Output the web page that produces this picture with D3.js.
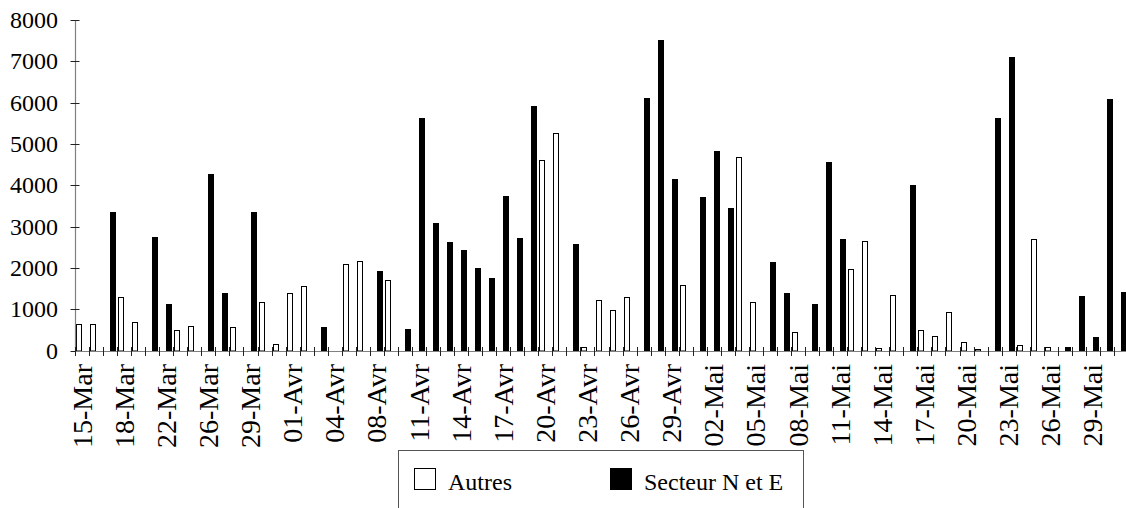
<!DOCTYPE html>
<html>
<head>
<meta charset="utf-8">
<script src="https://cdn.jsdelivr.net/npm/d3@7"></script>
<style>
  html, body { margin: 0; padding: 0; background: #fff; overflow: hidden; }
  svg, svg text { font-family: "Liberation Serif", "Times New Roman", serif; }
</style>
</head>
<body>
<svg id="chart" width="1126" height="508"></svg>
<script>
// Daily counts, 15 March to 31 May
const dates = [
  "15-Mar","16-Mar","17-Mar","18-Mar","19-Mar","20-Mar","22-Mar","23-Mar","24-Mar",
  "26-Mar","27-Mar","28-Mar","29-Mar","30-Mar","31-Mar","01-Avr","02-Avr","03-Avr",
  "04-Avr","05-Avr","06-Avr","08-Avr","09-Avr","10-Avr","11-Avr","12-Avr","13-Avr",
  "14-Avr","15-Avr","16-Avr","17-Avr","18-Avr","19-Avr","20-Avr","21-Avr","22-Avr",
  "23-Avr","24-Avr","25-Avr","26-Avr","27-Avr","28-Avr","29-Avr","30-Avr","01-Mai",
  "02-Mai","03-Mai","04-Mai","05-Mai","06-Mai","07-Mai","08-Mai","09-Mai","10-Mai",
  "11-Mai","12-Mai","13-Mai","14-Mai","15-Mai","16-Mai","17-Mai","18-Mai","19-Mai",
  "20-Mai","21-Mai","22-Mai","23-Mai","24-Mai","25-Mai","26-Mai","27-Mai","28-Mai",
  "29-Mai","30-Mai","31-Mai"
];

const autres = [
  650, 640, 0, 1290, 690, 0, 0, 500, 590,
  0, 0, 560, 0, 1170, 150, 1390, 1560, 0,
  0, 2090, 2160, 0, 1700, 0, 0, 0, 0,
  0, 0, 0, 0, 0, 0, 4610, 5270, 0,
  90, 1220, 990, 1290, 0, 0, 0, 1590, 0,
  0, 0, 4690, 1180, 0, 0, 440, 0, 0,
  0, 1970, 2640, 50, 1340, 0, 500, 340, 940,
  210, 40, 0, 0, 130, 2690, 90, 0, 0,
  0, 0, 0
];

const secteur = [
  0, 0, 3360, 0, 0, 2740, 1120, 0, 0,
  4270, 1390, 0, 3360, 0, 0, 0, 0, 580,
  0, 0, 0, 1930, 0, 520, 5630, 3080, 2620,
  2430, 1990, 1760, 3750, 2720, 5920, 0, 0, 2580,
  0, 0, 0, 0, 6110, 7520, 4160, 0, 3720,
  4820, 3450, 0, 0, 2150, 1390, 0, 1120, 4570,
  2700, 0, 0, 0, 0, 4000, 0, 0, 0,
  0, 0, 5620, 7110, 0, 0, 0, 90, 1310,
  330, 6080, 1420
];

const seriesNames = ["Autres", "Secteur N et E"];
const seriesValues = [autres, secteur];
const seriesFill = ["#ffffff", "#000000"];
const yTicks = [0, 1000, 2000, 3000, 4000, 5000, 6000, 7000, 8000];
const labelEvery = 3;

const FONT = "'Liberation Serif', 'Times New Roman', serif";
const svg = d3.select("#chart");

const plotLeft = 75, step = 14.04;
const x = d3.scaleBand()
  .domain(dates)
  .range([plotLeft, plotLeft + step * dates.length])
  .paddingInner(0).paddingOuter(0);

const x1 = d3.scaleBand()
  .domain(seriesNames)
  .range([0, x.bandwidth()])
  .paddingInner(0).paddingOuter(0.17);

const y = d3.scaleLinear().domain([0, 8000]).range([350.5, 20]);
const y0 = Math.round(y(0));

// bars
seriesNames.forEach((name, si) => {
  const vals = seriesValues[si];
  const g = svg.append("g").attr("class", "series");
  g.selectAll("rect")
    .data(dates.map((d, i) => ({ d, v: vals[i] })).filter(e => e.v > 0))
    .join("rect")
    .attr("x", e => {
      const a = Math.round(x(e.d) + x1(name));
      return si === 0 ? a + 0.5 : a;
    })
    .attr("y", e => {
      const t = Math.round(y(e.v));
      return si === 0 ? t + 0.5 : t;
    })
    .attr("width", e => {
      const a = Math.round(x(e.d) + x1(name));
      const b = Math.round(x(e.d) + x1(name) + x1.bandwidth());
      return si === 0 ? b - a - 1 : b - a;
    })
    .attr("height", e => {
      const t = Math.round(y(e.v));
      return Math.max(si === 0 ? y0 - t - 0.5 : y0 - t, 1);
    })
    .attr("fill", seriesFill[si])
    .attr("stroke", si === 0 ? "#000" : "none")
    .attr("stroke-width", 1);
});

// y axis
const yAxis = svg.append("g")
  .attr("transform", `translate(${plotLeft},0)`)
  .call(d3.axisLeft(y).tickValues(yTicks).tickSize(0).tickPadding(17).tickFormat(d3.format("d")))
  .attr("font-family", FONT)
  .attr("font-size", 24);
yAxis.select(".domain").attr("stroke", "#808080").attr("stroke-width", 1.2);
yAxis.selectAll(".tick line")
  .attr("x1", -4.5).attr("x2", 4.5)
  .attr("stroke", "#222").attr("stroke-width", 1);
yAxis.selectAll(".tick text")
  .style("font-family", FONT).style("font-size", "24px")
  .attr("fill", "#000");
yAxis.selectAll(".tick").attr("transform", d => `translate(0,${Math.round(y(d)) + 0.5})`);

// x axis
const xAxis = svg.append("g").attr("class", "x-axis");
const xRange = x.range();
xAxis.append("line")
  .attr("x1", xRange[0]).attr("x2", xRange[1])
  .attr("y1", y0 + 0.5).attr("y2", y0 + 0.5)
  .attr("stroke", "#808080").attr("stroke-width", 1.2);
const bounds = dates.map(d => x(d)).concat([xRange[1]]);
xAxis.selectAll("line.tk")
  .data(bounds)
  .join("line")
  .attr("class", "tk")
  .attr("x1", b => Math.round(b) + 0.5).attr("x2", b => Math.round(b) + 0.5)
  .attr("y1", y0 - 4).attr("y2", y0 + 5)
  .attr("stroke", "#222").attr("stroke-width", 1);
xAxis.selectAll("text")
  .data(dates.filter((d, i) => i % labelEvery === 0))
  .join("text")
  .attr("transform", d => `translate(${x(d) + x.bandwidth() / 2},364) rotate(-90)`)
  .attr("text-anchor", "end")
  .attr("dy", "0.34em")
  .style("font-family", FONT)
  .style("font-size", "28px")
  .attr("fill", "#000")
  .text(d => d);

// legend
const legend = svg.append("g").attr("class", "legend");
legend.append("rect")
  .attr("x", 398.5).attr("y", 450.5)
  .attr("width", 405).attr("height", 70)
  .attr("fill", "#fff").attr("stroke", "#555").attr("stroke-width", 1);
const legendX = [414, 610];
seriesNames.forEach((name, si) => {
  legend.append("rect")
    .attr("x", legendX[si] + 0.5).attr("y", 468.5)
    .attr("width", 21).attr("height", 21)
    .attr("fill", seriesFill[si]).attr("stroke", "#000").attr("stroke-width", 1);
  legend.append("text")
    .attr("x", legendX[si] + 34).attr("y", 490)
    .style("font-family", FONT).style("font-size", "24px")
    .attr("fill", "#000")
    .text(name);
});
</script>
</body>
</html>
